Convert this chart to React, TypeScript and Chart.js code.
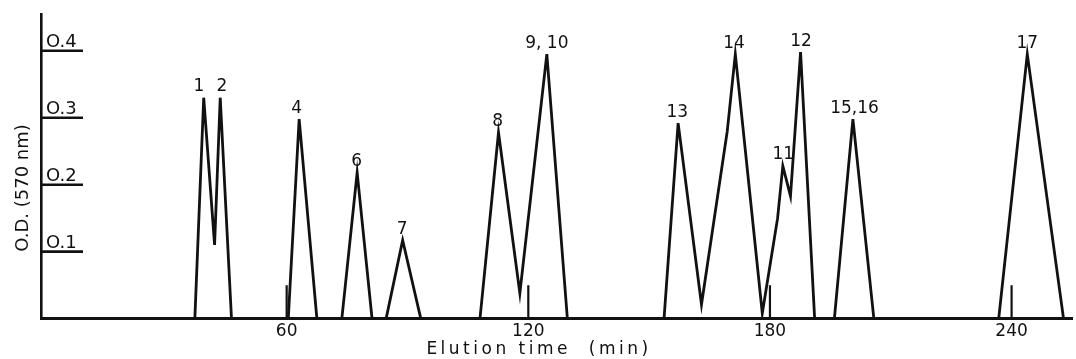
import React, { useEffect, useRef } from "react";
import { Chart, registerables } from "chart.js";

Chart.register(...registerables);

// Elution profile (time in min, O.D. at 570 nm); null breaks the trace between peak groups
const traceTime: number[] = [
  37.2, 39.4, 42.1, 43.5, 46.3, 46.3,
  60.4, 63.1, 67.5, 67.5,
  73.7, 77.5, 81.2, 81.2,
  84.7, 88.8, 93.3, 93.3,
  108.0, 112.6, 117.9, 124.6, 129.7, 129.7,
  153.7, 157.2, 163.0, 169.4, 171.4, 178.1, 181.9, 183.2, 185.1, 187.6, 191.1, 191.1,
  196.0, 200.6, 205.8, 205.8,
  236.8, 243.9, 252.9,
];
const traceOD: (number | null)[] = [
  0, 0.33, 0.11, 0.33, 0, null,
  0, 0.298, 0, null,
  0, 0.218, 0, null,
  0, 0.117, 0, null,
  0, 0.278, 0.038, 0.395, 0, null,
  0, 0.292, 0.021, 0.28, 0.395, 0.008, 0.15, 0.228, 0.183, 0.398, 0, null,
  0, 0.298, 0, null,
  0, 0.395, 0,
];

// short time markers at the baseline
const markerTimes: number[] = [60, 120, 180, 240];
const markerHeight = 0.05;

// peak labels
const peakLabels: string[] = ["1", "2", "4", "6", "7", "8", "9, 10", "13", "14", "11", "12", "15,16", "17"];
const peakLabelTimes: number[] = [38.2, 43.9, 62.5, 77.4, 88.7, 112.4, 124.6, 157.0, 171.1, 183.3, 187.7, 201.0, 243.9];
const peakLabelOD: number[] = [0.33, 0.33, 0.298, 0.218, 0.117, 0.278, 0.395, 0.292, 0.395, 0.228, 0.398, 0.298, 0.395];

const xTickValues: number[] = [60, 120, 180, 240];
const yTickValues: number[] = [0.1, 0.2, 0.3, 0.4];
const yTickLabels: string[] = ["O.1", "O.2", "O.3", "O.4"];

const xTitle = "Elution time  (min)";
const yTitle = "O.D. (570 nm)";

const INK = "#111";
const FONT = "DejaVu Sans";

export default function App() {
  const ref = useRef<HTMLCanvasElement | null>(null);

  useEffect(() => {
    document.body.style.margin = "0";
    const canvas = ref.current;
    if (!canvas) return;

    const traceData = traceTime.map((t, i) => ({ x: t, y: traceOD[i] }));
    const markerData: { x: number; y: number | null }[] = [];
    markerTimes.forEach((t) => {
      markerData.push({ x: t, y: 0 }, { x: t, y: markerHeight }, { x: t, y: null });
    });

    const annotate = {
      id: "annotate",
      afterDraw(chart: any) {
        const { ctx, scales } = chart;
        const xs = scales.x;
        const ys = scales.y;
        ctx.save();
        ctx.fillStyle = INK;
        ctx.strokeStyle = INK;
        // y tick lines with labels above them
        ctx.font = `18px "${FONT}"`;
        ctx.textAlign = "left";
        ctx.textBaseline = "alphabetic";
        ctx.lineWidth = 2.6;
        const left = chart.chartArea.left;
        yTickValues.forEach((v, i) => {
          const py = ys.getPixelForValue(v);
          ctx.beginPath();
          ctx.moveTo(left, py);
          ctx.lineTo(left + 42, py);
          ctx.stroke();
          ctx.fillText(yTickLabels[i], left + 5, py - 4);
        });
        // peak labels
        ctx.font = `17px "${FONT}"`;
        ctx.textAlign = "center";
        ctx.textBaseline = "middle";
        peakLabels.forEach((lab, i) => {
          const px = xs.getPixelForValue(peakLabelTimes[i]);
          const py = ys.getPixelForValue(peakLabelOD[i]);
          ctx.fillText(lab, px, py - 11);
        });
        // x title
        (ctx as any).letterSpacing = "3.5px";
        ctx.fillText(xTitle, 539, 350);
        (ctx as any).letterSpacing = "0px";
        // y title
        ctx.font = `18px "${FONT}"`;
        ctx.translate(23.5, 188);
        ctx.rotate(-Math.PI / 2);
        ctx.fillText(yTitle, 0, 0);
        ctx.restore();
      },
    };

    const chart = new Chart(canvas, {
      type: "line",
      data: {
        datasets: [
          {
            data: traceData as any,
            borderColor: INK,
            borderWidth: 2.8,
            pointRadius: 0,
            tension: 0,
            spanGaps: false,
            fill: false,
          },
          {
            data: markerData as any,
            borderColor: INK,
            borderWidth: 2.2,
            pointRadius: 0,
            tension: 0,
            spanGaps: false,
            fill: false,
          },
        ],
      },
      options: {
        animation: false,
        responsive: false,
        devicePixelRatio: 1,
        layout: { padding: { left: 41, right: 4, top: 14, bottom: 14 } },
        plugins: { legend: { display: false }, tooltip: { enabled: false } },
        scales: {
          x: {
            type: "linear",
            min: -1,
            max: 255,
            grid: { display: false, drawTicks: false },
            border: { display: true, color: INK, width: 3 },
            afterBuildTicks: (axis: any) => {
              axis.ticks = xTickValues.map((v) => ({ value: v }));
            },
            ticks: {
              autoSkip: false,
              maxRotation: 0,
              padding: 3,
              color: INK,
              font: { family: FONT, size: 17 },
              callback: (v: any) => String(v),
            },
          },
          y: {
            type: "linear",
            min: 0,
            max: 0.455,
            grid: { display: false, drawTicks: false },
            border: { display: true, color: INK, width: 2.6 },
            ticks: { display: false },
          },
        },
      },
      plugins: [annotate],
    });

    return () => chart.destroy();
  }, []);

  return (
    <div style={{ width: 1076, height: 359, background: "#fff" }}>
      <canvas ref={ref} width={1076} height={359} style={{ display: "block" }} />
    </div>
  );
}
